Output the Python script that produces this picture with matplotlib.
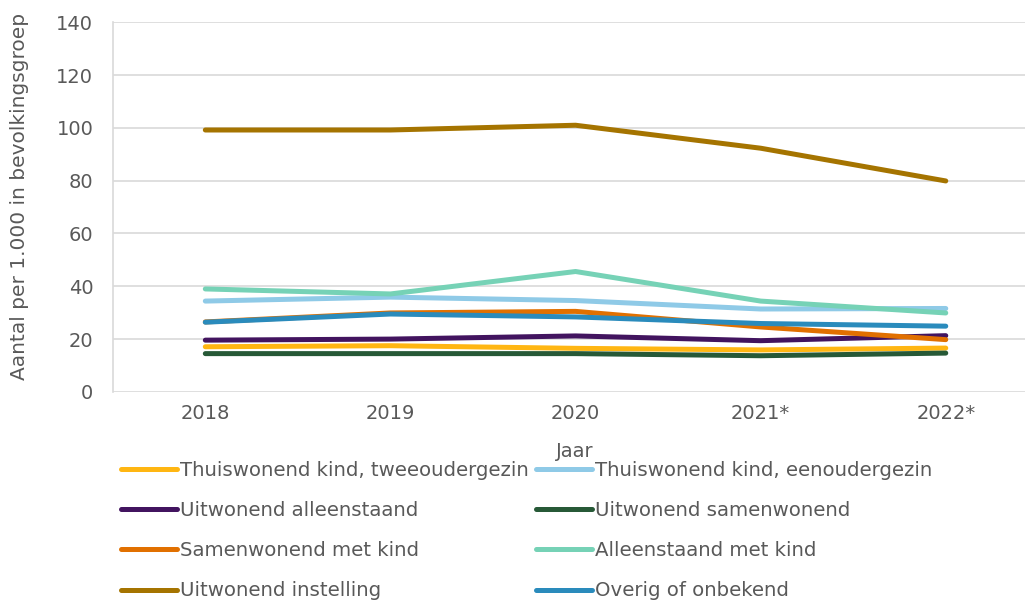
import numpy as np
import matplotlib
matplotlib.use('Agg')
import matplotlib.pyplot as plt

# Data (aflezen uit de grafiek)
jaren = ['2018', '2019', '2020', '2021*', '2022*']

tweeoudergezin = [17.1, 17.5, 16.5, 15.9, 16.6]
eenoudergezin = [34.4, 35.9, 34.6, 31.4, 31.6]
alleenstaand = [19.6, 20.0, 21.2, 19.4, 21.3]
samenwonend = [14.5, 14.5, 14.5, 13.7, 14.7]
samenwonend_kind = [26.5, 29.9, 30.5, 24.6, 19.8]
alleenstaand_kind = [39.0, 37.1, 45.6, 34.4, 29.9]
instelling = [99.2, 99.2, 101.0, 92.3, 79.9]
overig = [26.4, 29.5, 28.4, 25.9, 24.9]

series = [
    ('Thuiswonend kind, tweeoudergezin', tweeoudergezin, '#FFB612'),
    ('Thuiswonend kind, eenoudergezin', eenoudergezin, '#8FCAE7'),
    ('Uitwonend alleenstaand', alleenstaand, '#42145F'),
    ('Uitwonend samenwonend', samenwonend, '#275937'),
    ('Samenwonend met kind', samenwonend_kind, '#E17000'),
    ('Alleenstaand met kind', alleenstaand_kind, '#76D2B6'),
    ('Uitwonend instelling', instelling, '#A57400'),
    ('Overig of onbekend', overig, '#2A8BBC'),
]

tekst_kleur = '#595959'
plt.rcParams['font.family'] = ['DejaVu Sans']

fig = plt.figure(figsize=(10.25, 6.02), dpi=100)
ax = fig.add_axes([0.110, 0.349, 0.903, 0.614])

x = np.arange(len(jaren))
for naam, waarden, kleur in series:
    ax.plot(x, waarden, color=kleur, linewidth=3.6, label=naam,
            solid_capstyle='round', solid_joinstyle='round')

ax.set_xlim(-0.5, 4.5)
ax.set_ylim(0, 140)
ax.set_yticks(range(0, 141, 20))
ax.set_xticks(x)
ax.set_xticklabels(jaren)
ax.grid(axis='y', color='#D9D9D9', linewidth=1.2)
ax.set_axisbelow(True)
for s in ['top', 'right', 'bottom']:
    ax.spines[s].set_visible(False)
ax.spines['left'].set_color('#D9D9D9')
ax.spines['left'].set_linewidth(1.2)
ax.tick_params(axis='y', length=0, pad=14, labelsize=14, labelcolor=tekst_kleur)
ax.tick_params(axis='x', length=0, pad=9, labelsize=14, labelcolor=tekst_kleur)

ax.set_ylabel('Aantal per 1.000 in bevolkingsgroep', fontsize=14.5, color=tekst_kleur)
ax.yaxis.set_label_coords(-0.091, 0.53)
fig.text(0.561, 0.25, 'Jaar', fontsize=14, color=tekst_kleur, ha='center', va='center')

# legenda rij voor rij (zoals in het origineel)
handles, labels = ax.get_legend_handles_labels()
volgorde = [0, 2, 4, 6, 1, 3, 5, 7]
leg = fig.legend([handles[i] for i in volgorde], [labels[i] for i in volgorde],
                 loc='upper left', bbox_to_anchor=(0.118, 0.235), ncol=2, frameon=False,
                 fontsize=14.2, handlelength=2.85, handletextpad=0.15, columnspacing=0.35,
                 labelspacing=1.08, borderaxespad=0, borderpad=0)
for t in leg.get_texts():
    t.set_color(tekst_kleur)

fig.savefig('out.png', dpi=100)
